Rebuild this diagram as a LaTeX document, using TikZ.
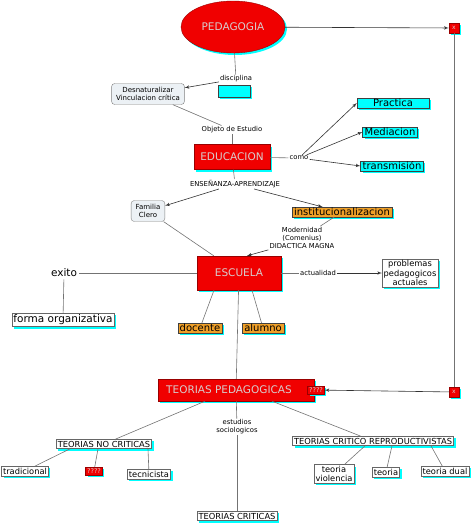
\documentclass[tikz,border=0pt]{standalone}
\usepackage{fontspec}
\setmainfont{DejaVu Sans}
\usetikzlibrary{arrows,shapes.geometric,shadows}
\definecolor{mapred}{RGB}{240,0,0}
\definecolor{maporange}{RGB}{240,160,40}
\definecolor{mapcyan}{RGB}{0,255,255}
\definecolor{mapsoft}{RGB}{236,241,245}
\definecolor{maptext}{RGB}{215,205,205}

\begin{document}
\begin{tikzpicture}[x=1pt,y=-1pt,>=latex',every node/.append style={align=center,inner sep=2pt},
    shad/.style={drop shadow={shadow xshift=2pt,shadow yshift=-2pt,fill=mapcyan,opacity=1}},
    redc/.style={shad,fill=mapred,draw=red!60!black,text=maptext,font=\fontsize{10.5}{12}\selectfont},
    tinyred/.style={redc,font=\fontsize{6.5}{7}\selectfont,inner sep=1.5pt},
    cyanc/.style={shad,fill=mapcyan,draw=black!75,font=\fontsize{10}{11}\selectfont,inner ysep=1pt},
    orangec/.style={shad,fill=maporange,draw=black!75,font=\fontsize{10}{11}\selectfont,inner ysep=1pt},
    whitec/.style={shad,fill=white,draw=black!60,font=\fontsize{8.3}{9.5}\selectfont,inner sep=1.5pt},
    softc/.style={rounded corners=3pt,fill=mapsoft,draw=black!50,font=\fontsize{7}{8.5}\selectfont,inner xsep=4.5pt,inner ysep=3.5pt},
    lbl/.style={fill=white,inner sep=1pt,font=\fontsize{6.8}{8}\selectfont},
    link/.style={draw=black!55,line width=0.6pt},
    arr/.style={draw=black!80,line width=0.6pt,->}]
    \useasboundingbox (0,0) rectangle (474,525);
    % upper part
    \node [ellipse,redc,minimum width=104,minimum height=52] (ped) at (233,27) {PEDAGOGIA};
    \node [tinyred,minimum size=10,inner sep=0pt,font=\fontsize{6}{6}\selectfont] (xtop) at (454,28) {x};
    \node [lbl] (disc) at (236,79) {disciplina};
    \node [cyanc,minimum width=32,minimum height=12] (blank) at (234,91) {};
    \node [softc] (desn) at (148,94) {Desnaturalizar\\Vinculacion crítica};
    \node [lbl] (obj) at (232,130) {Objeto de Estudio};
    \node [redc,minimum width=76,minimum height=25] (edu) at (232,157) {EDUCACION};
    \node [lbl] (como) at (299,158) {como};
    \node [cyanc,minimum width=72] (prac) at (393,103) {Practica};
    \node [cyanc] (medi) at (390,132) {Mediacion};
    \node [cyanc] (trans) at (392,166) {transmisión};
    \node [lbl] (ens) at (235,184) {ENSEÑANZA-APRENDIZAJE};
    \node [softc] (fam) at (148,211) {Familia\\Clero};
    \node [orangec] (inst) at (342,212) {institucionalizacion};
    \node [lbl] (mod) at (302,238) {Modernidad\\(Comenius)\\DIDACTICA MAGNA};
    % escuela
    \node [redc,minimum width=84,minimum height=34] (esc) at (239,273) {ESCUELA};
    \node [font=\fontsize{10.5}{12}\selectfont] (exito) at (64,273) {exito};
    \node [whitec,font=\fontsize{10.5}{12}\selectfont] (forma) at (63,320) {forma organizativa};
    \node [lbl] (act) at (318,273) {actualidad};
    \node [whitec] (prob) at (410,273) {problemas\\pedagogicos\\actuales};
    \node [orangec] (doc) at (200,328) {docente};
    \node [orangec] (alu) at (263,328) {alumno};
    % teorias
    \node [redc,minimum width=156,minimum height=22] (teo) at (236,390) {TEORIAS PEDAGOGICAS\hspace{14pt}};
    \node [tinyred] (q1) at (316,390) {????};
    \node [tinyred,minimum size=10,inner sep=0pt,font=\fontsize{6}{6}\selectfont] (xbot) at (454,392) {x};
    \node [lbl] (est) at (237,427) {estudios\\sociologicos};
    \node [whitec] (tnc) at (104,444) {TEORIAS NO CRITICAS};
    \node [whitec] (trad) at (25,471) {tradicional};
    \node [tinyred] (q2) at (94,471) {????};
    \node [whitec] (tec) at (149,474) {tecnicista};
    \node [whitec] (tc) at (237,516) {TEORIAS CRITICAS};
    \node [whitec] (tcr) at (373,441) {TEORIAS CRITICO REPRODUCTIVISTAS};
    \node [whitec] (tv) at (334,474) {teoria\\violencia};
    \node [whitec] (teoria) at (386,472) {teoria};
    \node [whitec] (tdual) at (445,471) {teoria dual};
    % connectors
    \draw [arr] (ped) -- (xtop);
    \draw [link] (xtop) -- (xbot);
    \draw [arr] (xbot) -- (q1);
    \draw [link] (ped) -- (disc);
    \draw [arr] (disc) -- (desn);
    \draw [link] (desn) -- (obj);
    \draw [link] (obj) -- (edu);
    \draw [link] (edu) -- (como);
    \draw [arr] (como) -- (prac.west);
    \draw [arr] (como) -- (medi.west);
    \draw [arr] (como) -- (trans.west);
    \draw [link] (edu) -- (ens);
    \draw [arr] (ens) -- (fam);
    \draw [arr] (ens) -- (inst);
    \draw [link] (inst) -- (mod);
    \draw [arr] (mod.south west) -- ([xshift=8pt]esc.north);
    \draw [link] (fam) -- (esc);
    \draw [link] (esc) -- (exito);
    \draw [link] (exito) -- (forma);
    \draw [link] (esc) -- (act);
    \draw [arr] (act) -- (prob);
    \draw [link] ([xshift=-25pt]esc.south) -- (doc);
    \draw [link] ([xshift=13pt]esc.south) -- (alu);
    \draw [link] (esc) -- (teo);
    \draw [link] (teo) -- (est);
    \draw [link] (est) -- (tc);
    \draw [link] ([xshift=-31pt]teo.south) -- (tnc);
    \draw [link] ([xshift=36pt]teo.south) -- (tcr);
    \draw [link] ([xshift=-34pt]tnc.south) -- (trad);
    \draw [link] ([xshift=-6pt]tnc.south) -- (q2);
    \draw [link] ([xshift=44pt]tnc.south) -- (tec);
    \draw [link] ([xshift=-8pt]tcr.south) -- (tv);
    \draw [link] ([xshift=19pt]tcr.south) -- (teoria);
    \draw [link] ([xshift=58pt]tcr.south) -- (tdual);
\end{tikzpicture}
\end{document}
